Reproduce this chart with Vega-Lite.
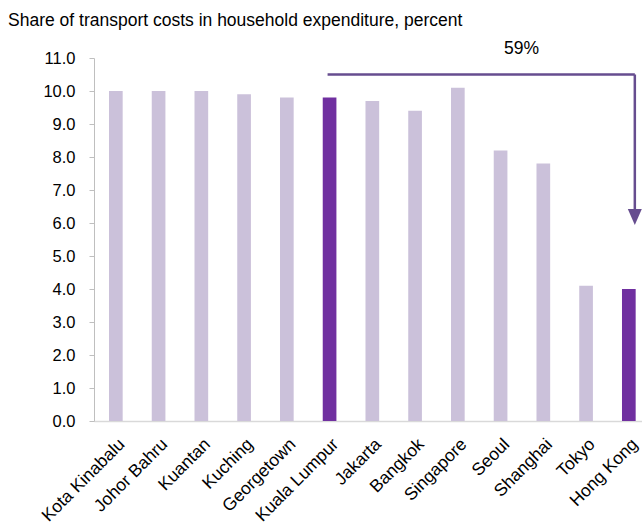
{
  "$schema": "https://vega.github.io/schema/vega-lite/v6.json",
  "width": 548,
  "height": 363,
  "autosize": {"type": "none"},
  "padding": {"left": 94, "top": 58, "right": 0, "bottom": 106},
  "background": "white",
  "config": {
    "font": "Liberation Sans",
    "view": {"stroke": null},
    "axisX": {
      "title": null,
      "labelAngle": -45,
      "labelFontSize": 17.5,
      "labelColor": "#000000",
      "labelOverlap": false,
      "ticks": false,
      "labelPadding": 14,
      "domainColor": "#d9d9d9",
      "domainWidth": 1.5,
      "grid": false
    },
    "axisY": {
      "title": null,
      "labelFontSize": 16.5,
      "labelColor": "#000000",
      "labelOverlap": false,
      "grid": false,
      "domainColor": "#bfbfbf",
      "tickColor": "#bfbfbf",
      "tickSize": 5,
      "labelPadding": 14
    }
  },
  "title": {
    "text": "Share of transport costs in household expenditure, percent",
    "anchor": "start",
    "frame": "group",
    "dx": -86,
    "fontSize": 17.5,
    "fontWeight": "normal",
    "color": "#000000",
    "baseline": "alphabetic",
    "offset": -3
  },
  "data": {
    "values": [
      {"city": "Kota Kinabalu", "value": 10.0, "group": "other"},
      {"city": "Johor Bahru", "value": 10.0, "group": "other"},
      {"city": "Kuantan", "value": 10.0, "group": "other"},
      {"city": "Kuching", "value": 9.9, "group": "other"},
      {"city": "Georgetown", "value": 9.8, "group": "other"},
      {"city": "Kuala Lumpur", "value": 9.8, "group": "highlight"},
      {"city": "Jakarta", "value": 9.7, "group": "other"},
      {"city": "Bangkok", "value": 9.4, "group": "other"},
      {"city": "Singapore", "value": 10.1, "group": "other"},
      {"city": "Seoul", "value": 8.2, "group": "other"},
      {"city": "Shanghai", "value": 7.8, "group": "other"},
      {"city": "Tokyo", "value": 4.1, "group": "other"},
      {"city": "Hong Kong", "value": 4.0, "group": "highlight"}
    ]
  },
  "layer": [
    {
      "mark": {"type": "bar"},
      "encoding": {
        "x": {
          "field": "city",
          "type": "nominal",
          "sort": null,
          "scale": {
            "domain": ["Kota Kinabalu", "Johor Bahru", "Kuantan", "Kuching", "Georgetown", "Kuala Lumpur", "Jakarta", "Bangkok", "Singapore", "Seoul", "Shanghai", "Tokyo", "Hong Kong"],
            "paddingInner": 0.68,
            "paddingOuter": 0.2495,
            "align": 0.703
          },
          "axis": {"title": null}
        },
        "y": {
          "field": "value",
          "type": "quantitative",
          "scale": {"domain": [0, 11], "nice": false},
          "axis": {"title": null, "values": [0, 1, 2, 3, 4, 5, 6, 7, 8, 9, 10, 11], "format": ".1f"}
        },
        "color": {
          "field": "group",
          "type": "nominal",
          "scale": {"domain": ["other", "highlight"], "range": ["#cbc1da", "#7030a0"]},
          "legend": null
        }
      }
    },
    {
      "data": {"values": [{"from": "Kuala Lumpur", "to": "Hong Kong", "level": 10.5}]},
      "mark": {"type": "rule", "color": "#664d8f", "strokeWidth": 2.5, "xOffset": -2, "x2Offset": 6},
      "encoding": {
        "x": {"field": "from", "type": "nominal", "axis": {"title": null}},
        "x2": {"field": "to"},
        "y": {"field": "level", "type": "quantitative", "axis": {"title": null, "values": [0, 1, 2, 3, 4, 5, 6, 7, 8, 9, 10, 11], "format": ".1f"}}
      }
    },
    {
      "data": {"values": [{"to": "Hong Kong", "level": 10.5, "end": 6.4}]},
      "mark": {"type": "rule", "color": "#664d8f", "strokeWidth": 2.5, "xOffset": 6},
      "encoding": {
        "x": {"field": "to", "type": "nominal", "axis": {"title": null}},
        "y": {"field": "level", "type": "quantitative", "axis": {"title": null, "values": [0, 1, 2, 3, 4, 5, 6, 7, 8, 9, 10, 11], "format": ".1f"}},
        "y2": {"field": "end"}
      }
    },
    {
      "data": {"values": [{"to": "Hong Kong", "tip": 6.18}]},
      "mark": {"type": "point", "shape": "M-1,-1.14L1,-1.14L0,1.14Z", "filled": true, "color": "#664d8f", "opacity": 1, "size": 196, "xOffset": 6},
      "encoding": {
        "x": {"field": "to", "type": "nominal", "axis": {"title": null}},
        "y": {"field": "tip", "type": "quantitative", "axis": {"title": null, "values": [0, 1, 2, 3, 4, 5, 6, 7, 8, 9, 10, 11], "format": ".1f"}}
      }
    },
    {
      "data": {"values": [{"at": "Seoul", "pos": 11.26, "label": "59%"}]},
      "mark": {"type": "text", "fontSize": 17.5, "color": "#000000", "baseline": "middle", "align": "center", "xOffset": 21},
      "encoding": {
        "x": {"field": "at", "type": "nominal", "axis": {"title": null}},
        "y": {"field": "pos", "type": "quantitative", "axis": {"title": null, "values": [0, 1, 2, 3, 4, 5, 6, 7, 8, 9, 10, 11], "format": ".1f"}},
        "text": {"field": "label"}
      }
    }
  ]
}
